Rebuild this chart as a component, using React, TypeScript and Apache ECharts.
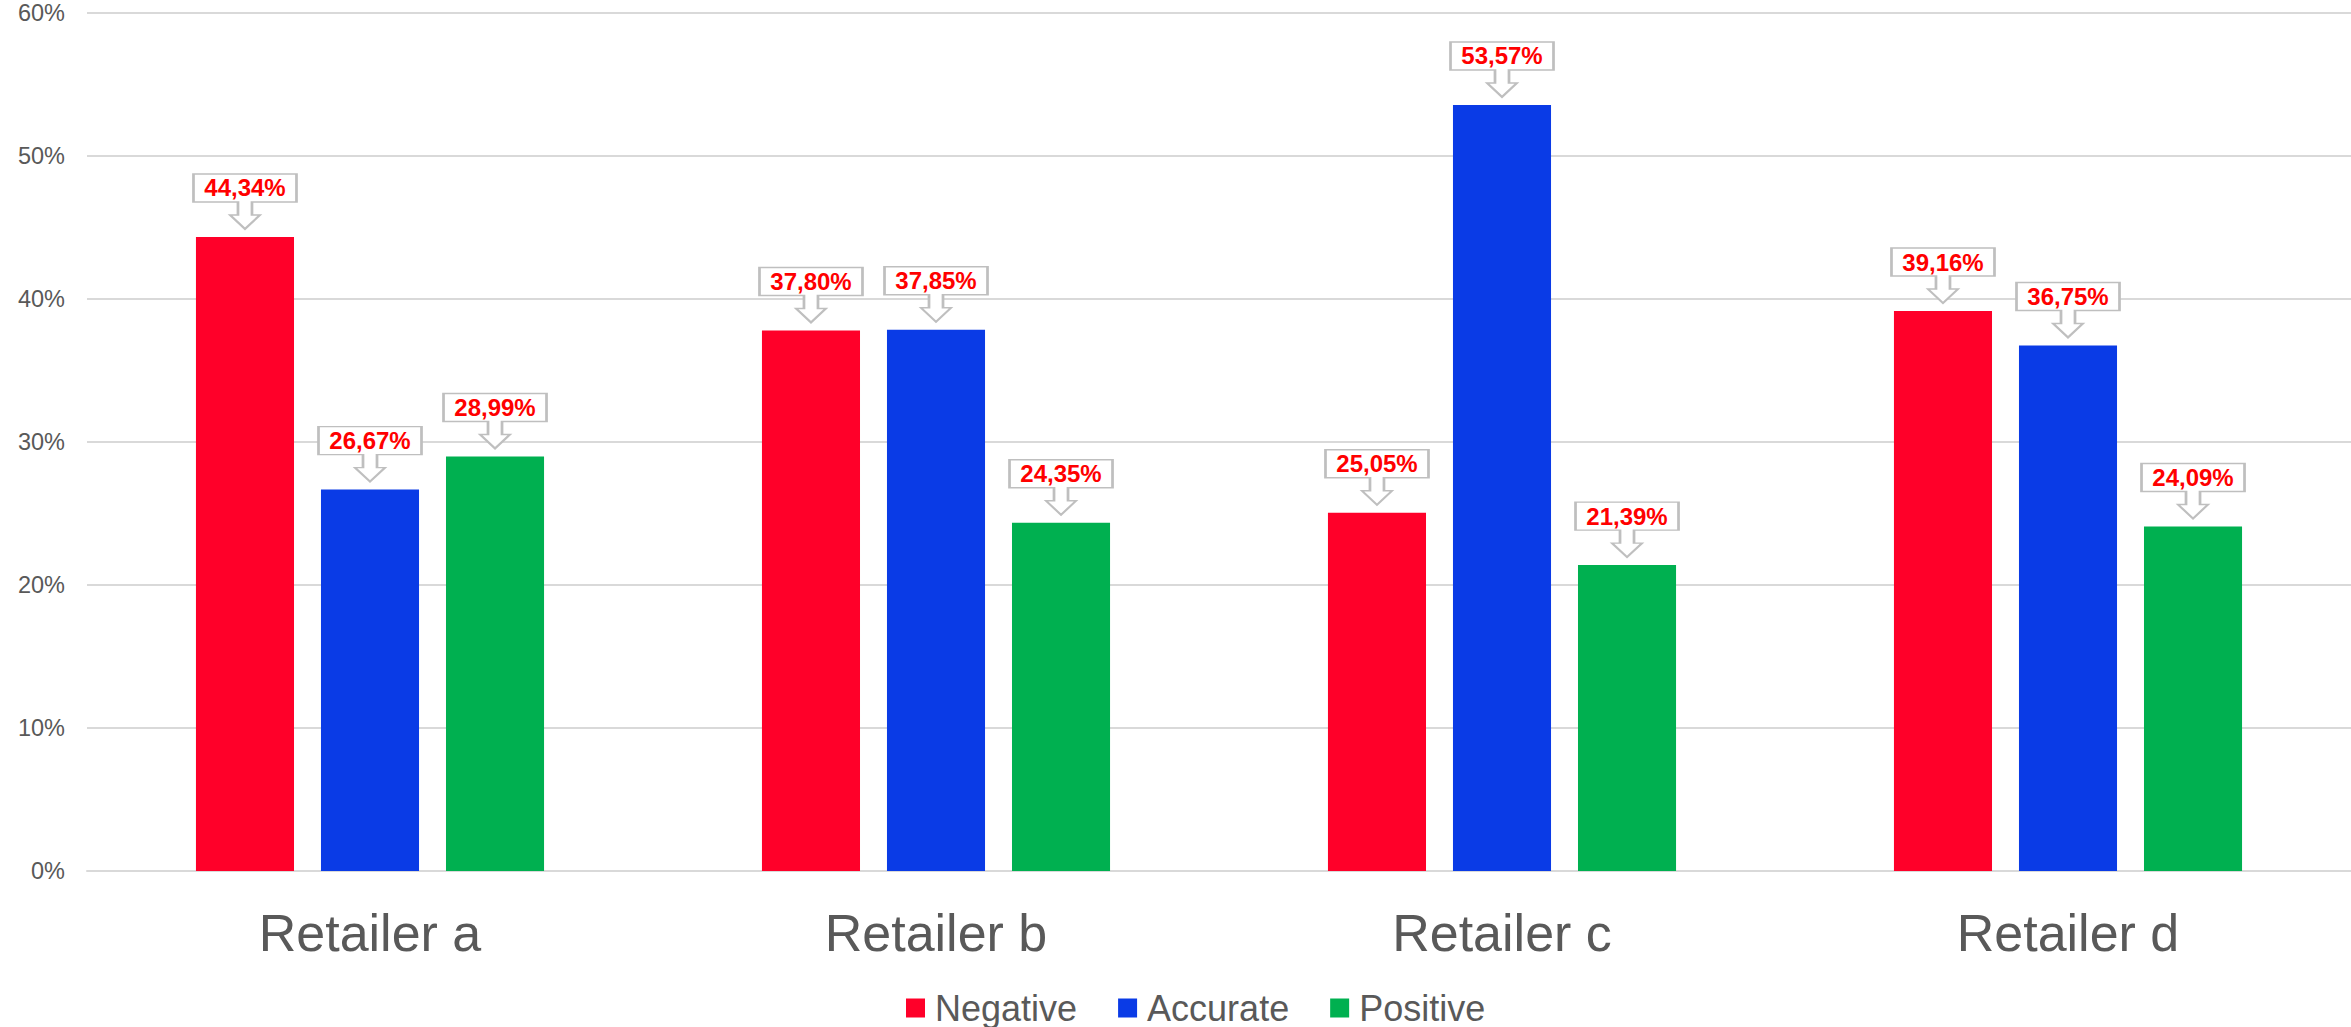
import React, { useEffect, useRef } from "react";
import * as echarts from "echarts";

const categories = ["Retailer a", "Retailer b", "Retailer c", "Retailer d"];
const seriesNames = ["Negative", "Accurate", "Positive"];
const negative = [44.34, 37.8, 25.05, 39.16];
const accurate = [26.67, 37.85, 53.57, 36.75];
const positive = [28.99, 24.35, 21.39, 24.09];
const colors = ["#FF0029", "#0A3BE6", "#00B050"];
const yTicks = { min: 0, max: 60, interval: 10 };

const FONT = "'Liberation Sans', Arial, sans-serif";
const CALLOUT =
  "path://M0 0 H103 V28 H58.5 V41 H66.5 L51.5 55 L36.5 41 H44.5 V28 H0 Z";

const fmt = (v: number) => v.toFixed(2).replace(".", ",") + "%";

export default function App() {
  const ref = useRef<HTMLDivElement>(null);
  useEffect(() => {
    document.body.style.margin = "0";
    const chart = echarts.init(ref.current!, null, { renderer: "svg" });
    const all = [negative, accurate, positive];
    chart.setOption({
      animation: false,
      backgroundColor: "#ffffff",
      grid: { left: 87, right: 0, top: 13, bottom: 156, containLabel: false },
      legend: {
        top: 989,
        left: 906,
        padding: 0,
        itemWidth: 19,
        itemHeight: 19,
        itemGap: 41,
        icon: "rect",
        textStyle: {
          color: "#595959",
          fontSize: 36,
          lineHeight: 38,
          fontFamily: FONT,
          padding: [0, 0, 0, 5],
        },
        data: seriesNames,
      },
      xAxis: {
        type: "category",
        data: categories,
        axisLine: { lineStyle: { color: "#D9D9D9", width: 2 } },
        axisTick: { show: false },
        axisLabel: { color: "#595959", fontSize: 52, fontFamily: FONT, margin: 36 },
      },
      yAxis: {
        type: "value",
        min: yTicks.min,
        max: yTicks.max,
        interval: yTicks.interval,
        axisLine: { show: false },
        axisTick: { show: false },
        splitLine: { lineStyle: { color: "#D9D9D9", width: 2 } },
        axisLabel: {
          color: "#595959",
          fontSize: 23.5,
          fontFamily: FONT,
          margin: 22,
          formatter: "{value}%",
        },
      },
      series: seriesNames.map((name, si) => ({
        name,
        type: "bar",
        data: all[si],
        barGap: "27.5%",
        barCategoryGap: "38.5%",
        itemStyle: { color: colors[si] },
        markPoint: {
          symbol: CALLOUT,
          symbolSize: [103, 55],
          symbolOffset: [0, -35.5],
          symbolKeepAspect: false,
          itemStyle: { color: "#ffffff", borderColor: "#BFBFBF", borderWidth: 2 },
          label: {
            show: true,
            position: "inside",
            offset: [0, -13.5],
            color: "#FF0000",
            fontWeight: "bold",
            fontSize: 24,
            fontFamily: FONT,
            formatter: (p: any) => fmt(p.value),
          },
          data: all[si].map((v, i) => ({ coord: [categories[i], v], value: v })),
        },
      })),
    });
    return () => chart.dispose();
  }, []);
  return <div ref={ref} style={{ width: 2351, height: 1027 }} />;
}
